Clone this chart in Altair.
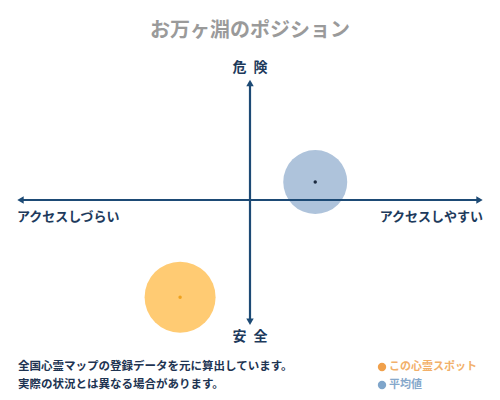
import altair as alt
import pandas as pd

# ---- data ----
series = ["この心霊スポット", "平均値"]
x_vals = [-0.30, 0.28]
y_vals = [-0.81, 0.15]
bubble_size = [5041, 4096]
fill_colors = ["#FFCB73", "#AEC3DB"]
dot_colors = ["#EFA21E", "#1B2A3F"]
legend_dot_colors = ["#F0A04B", "#7FA5CA"]
legend_text_colors = ["#F2B06A", "#86A8CB"]

title_text = "お万ヶ淵のポジション"
top_label = "危\u2002険"
bottom_label = "安\u2002全"
left_label = "アクセスしづらい"
right_label = "アクセスしやすい"
notes = ["全国心霊マップの登録データを元に算出しています。",
         "実際の状況とは異なる場合があります。"]

FONT = "Noto Sans CJK JP"
AXIS_COLOR = "#1D4A75"

W, H = 484, 384
xs = alt.Scale(domain=[-1, 1], range=[9, 475])
ys = alt.Scale(domain=[-1, 1], range=[312, 72])
rows = alt.Scale(domain=[0, 1], range=[359, 377])

pts = pd.DataFrame({"series": series, "x": x_vals, "y": y_vals,
                    "size": bubble_size, "fill": fill_colors, "dot": dot_colors})

X = lambda f="x": alt.X(f"{f}:Q", scale=xs, axis=None)
Y = lambda f="y": alt.Y(f"{f}:Q", scale=ys, axis=None)

bubbles = alt.Chart(pts).mark_circle(opacity=1).encode(
    x=X(), y=Y(),
    size=alt.Size("size:Q", scale=None, legend=None),
    color=alt.Color("fill:N", scale=None, legend=None),
)
centers = alt.Chart(pts).mark_circle(size=12, opacity=1).encode(
    x=X(), y=Y(), color=alt.Color("dot:N", scale=None, legend=None)
)

# axes lines
hline = alt.Chart(pd.DataFrame({"x": [-0.99], "x2": [0.99], "y": [0]})).mark_rule(
    color=AXIS_COLOR, strokeWidth=2.2).encode(x=X(), x2="x2:Q", y=Y())
vline = alt.Chart(pd.DataFrame({"y": [-1.02], "y2": [0.98], "x": [0]})).mark_rule(
    color=AXIS_COLOR, strokeWidth=2.2).encode(y=Y(), y2="y2:Q", x=X())

heads = pd.DataFrame({
    "x": [-0.985, 0.985, 0, 0],
    "y": [0, 0, 0.975, -1.015],
    "shape": ["triangle-left", "triangle-right", "triangle-up", "triangle-down"],
})
arrowheads = alt.Chart(heads).mark_point(filled=True, opacity=1, size=55,
                                         color=AXIS_COLOR).encode(
    x=X(), y=Y(), shape=alt.Shape("shape:N", scale=None, legend=None))

top_t = alt.Chart(pd.DataFrame({"t": [top_label], "x": [0], "y": [1]})).mark_text(
    font=FONT, fontSize=14, fontWeight="bold", color="#1D3A5C", dy=-12).encode(
    x=X(), y=Y(), text="t:N")
bot_t = alt.Chart(pd.DataFrame({"t": [bottom_label], "x": [0], "y": [-1]})).mark_text(
    font=FONT, fontSize=14, fontWeight="bold", color="#1D3A5C", dy=17).encode(
    x=X(), y=Y(), text="t:N")
left_t = alt.Chart(pd.DataFrame({"t": [left_label], "x": [-1], "y": [0]})).mark_text(
    font=FONT, fontSize=13, fontWeight="bold", color="#1D3A5C", align="left", dy=17).encode(
    x=X(), y=Y(), text="t:N")
right_t = alt.Chart(pd.DataFrame({"t": [right_label], "x": [1], "y": [0]})).mark_text(
    font=FONT, fontSize=13, fontWeight="bold", color="#1D3A5C", align="right", dy=17).encode(
    x=X(), y=Y(), text="t:N")

title = alt.Chart(pd.DataFrame({"t": [title_text]})).mark_text(
    font=FONT, fontSize=20, fontWeight="bold", color="#9A9A9A").encode(
    x=alt.value(242), y=alt.value(23), text="t:N")

notes_df = pd.DataFrame({"t": notes, "row": [0, 1]})
notes_t = alt.Chart(notes_df).mark_text(
    font=FONT, fontSize=11.5, fontWeight="bold", color="#1E3452", align="left").encode(
    x=alt.value(10),
    y=alt.Y("row:Q", scale=rows, axis=None),
    text="t:N")

leg_df = pd.DataFrame({"t": series, "row": [0, 1],
                       "dc": legend_dot_colors, "tc": legend_text_colors})
leg_y = alt.Y("row:Q", scale=rows, axis=None)
leg_dots = alt.Chart(leg_df).mark_circle(size=70, opacity=1).encode(
    x=alt.value(374), y=leg_y, color=alt.Color("dc:N", scale=None, legend=None))
leg_text = alt.Chart(leg_df).mark_text(
    font=FONT, fontSize=11, fontWeight="bold", align="left").encode(
    x=alt.value(381), y=leg_y, text="t:N",
    color=alt.Color("tc:N", scale=None, legend=None))

chart = alt.layer(
    bubbles, hline, vline, arrowheads, centers,
    top_t, bot_t, left_t, right_t, title, notes_t, leg_dots, leg_text
).resolve_scale(y="independent").properties(
    width=W, height=H, padding=0, autosize="none", background="white"
).configure_view(stroke=None)

chart.save("out.html", embed_options={"renderer": "svg", "actions": False})
